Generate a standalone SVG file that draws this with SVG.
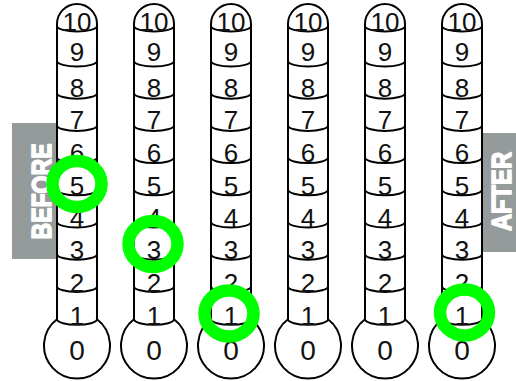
<svg xmlns="http://www.w3.org/2000/svg" xmlns:xlink="http://www.w3.org/1999/xlink" width="516" height="381" viewBox="0 0 516 381">
<style>
.outline{fill:#fff;stroke:#000;stroke-width:2;stroke-linejoin:round}
.sep{fill:none;stroke:#000;stroke-width:2}
.num{font-family:"Liberation Sans",Arial,sans-serif;font-size:26px;fill:#111;text-anchor:middle}
.zero{font-size:28px}
.tag{fill:#959b9b}
.tagtxt{font-family:"Liberation Sans",Arial,sans-serif;font-weight:bold;font-size:28px;fill:#fff;stroke:#fff;stroke-width:1.6;stroke-linejoin:round;text-anchor:middle}
.ring{fill:none;stroke:#00ff00;stroke-width:12.5}
</style>
<defs>
<g id="tube">
<path class="outline" d="M -20 319.3 L -20 24 A 20 20 0 0 1 20 24 L 20 319.3 A 33 33 0 1 1 -20 319.3 Z"/>
<path class="sep" d="M -20 26 A 20 5.5 0 0 0 20 26 M -20 61 A 20 5.5 0 0 0 20 61 M -20 93.2 A 20 5.5 0 0 0 20 93.2 M -20 125.4 A 20 5.5 0 0 0 20 125.4 M -20 157.6 A 20 5.5 0 0 0 20 157.6 M -20 189.8 A 20 5.5 0 0 0 20 189.8 M -20 222 A 20 5.5 0 0 0 20 222 M -20 254.2 A 20 5.5 0 0 0 20 254.2 M -20 286.4 A 20 5.5 0 0 0 20 286.4 M -20 319.3 A 20 5.5 0 0 0 20 319.3"/>
<text class="num" x="0" y="31">10</text>
<text class="num" x="0" y="61">9</text>
<text class="num" x="0" y="97">8</text>
<text class="num" x="0" y="129">7</text>
<text class="num" x="0" y="162">6</text>
<text class="num" x="0" y="195">5</text>
<text class="num" x="0" y="227">4</text>
<text class="num" x="0" y="259">3</text>
<text class="num" x="0" y="291.5">2</text>
<text class="num" x="0" y="324.5">1</text>
<text class="num zero" x="0" y="360">0</text>
</g>
</defs>
<g id="label-before">
<rect class="tag" x="12" y="123" width="45" height="136"/>
<text class="tagtxt" transform="translate(51,191.5) rotate(-90)" textLength="96" lengthAdjust="spacingAndGlyphs">BEFORE</text>
</g>
<g id="label-after">
<rect class="tag" x="482" y="133" width="34" height="119"/>
<text class="tagtxt" transform="translate(511,191.5) rotate(-90)" textLength="79" lengthAdjust="spacingAndGlyphs">AFTER</text>
</g>
<g id="thermometer-1"><use xlink:href="#tube" href="#tube" transform="translate(77,0)"/></g>
<g id="thermometer-2"><use xlink:href="#tube" href="#tube" transform="translate(154,0)"/></g>
<g id="thermometer-3"><use xlink:href="#tube" href="#tube" transform="translate(231,0)"/></g>
<g id="thermometer-4"><use xlink:href="#tube" href="#tube" transform="translate(308,0)"/></g>
<g id="thermometer-5"><use xlink:href="#tube" href="#tube" transform="translate(385,0)"/></g>
<g id="thermometer-6"><use xlink:href="#tube" href="#tube" transform="translate(462,0)"/></g>
<g id="markers">
<ellipse class="ring" cx="77" cy="184" rx="24.5" ry="23"/>
<ellipse class="ring" cx="153" cy="244" rx="24.5" ry="23"/>
<ellipse class="ring" cx="229" cy="313.5" rx="24.5" ry="23"/>
<ellipse class="ring" cx="464.5" cy="312.5" rx="24.5" ry="23"/>
</g>
<g id="connectors"/>
</svg>
